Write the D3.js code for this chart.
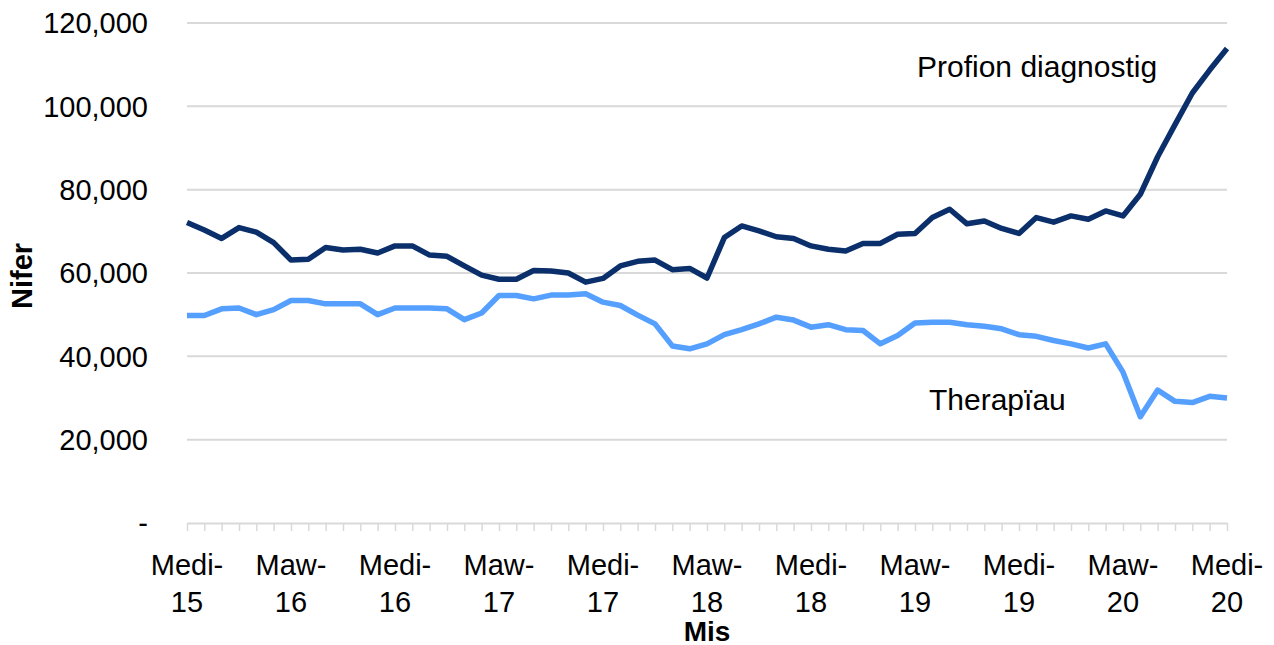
<!DOCTYPE html>
<html>
<head>
<meta charset="utf-8">
<script src="https://cdn.jsdelivr.net/npm/d3@7"></script>
<style>
    body { margin: 0; background: #fff; }
    text { font-family: "Liberation Sans", Arial, sans-serif; fill: #000; }
</style>
</head>
<body>
<div id="chart"></div>
<script>
// Months, Sep 2015 to Sep 2020 (Welsh abbreviations)
const months = [
    'Medi-15', 'Hyd-15', 'Tach-15', 'Rhag-15',
    'Ion-16', 'Chwef-16', 'Maw-16', 'Ebr-16', 'Mai-16', 'Meh-16', 'Gorff-16', 'Awst-16', 'Medi-16', 'Hyd-16', 'Tach-16', 'Rhag-16',
    'Ion-17', 'Chwef-17', 'Maw-17', 'Ebr-17', 'Mai-17', 'Meh-17', 'Gorff-17', 'Awst-17', 'Medi-17', 'Hyd-17', 'Tach-17', 'Rhag-17',
    'Ion-18', 'Chwef-18', 'Maw-18', 'Ebr-18', 'Mai-18', 'Meh-18', 'Gorff-18', 'Awst-18', 'Medi-18', 'Hyd-18', 'Tach-18', 'Rhag-18',
    'Ion-19', 'Chwef-19', 'Maw-19', 'Ebr-19', 'Mai-19', 'Meh-19', 'Gorff-19', 'Awst-19', 'Medi-19', 'Hyd-19', 'Tach-19', 'Rhag-19',
    'Ion-20', 'Chwef-20', 'Maw-20', 'Ebr-20', 'Mai-20', 'Meh-20', 'Gorff-20', 'Awst-20', 'Medi-20'
];

// Month labels shown on the x axis
const tickLabels = ['Medi-15', 'Maw-16', 'Medi-16', 'Maw-17', 'Medi-17', 'Maw-18',
    'Medi-18', 'Maw-19', 'Medi-19', 'Maw-20', 'Medi-20'];

const yTicks = [0, 20000, 40000, 60000, 80000, 100000, 120000];

// Profion diagnostig
const diagnostic = [
    72100, 70300, 68300, 70900, 69800, 67300, 63100, 63300, 66100, 65500,
    65700, 64800, 66500, 66500, 64300, 64000, 61700, 59500, 58500, 58500,
    60600, 60500, 60000, 57800, 58700, 61700, 62800, 63100, 60800, 61100,
    58800, 68500, 71300, 70100, 68700, 68300, 66500, 65700, 65300, 67100,
    67100, 69300, 69500, 73300, 75300, 71800, 72500, 70700, 69500, 73300,
    72200, 73700, 72900, 74900, 73700, 78900, 87900, 95600, 103200, 108700,
    113900
];

// Therapïau
const therapies = [
    49800, 49800, 51400, 51600, 50000, 51200, 53400, 53400, 52600, 52600,
    52600, 50000, 51600, 51600, 51600, 51400, 48800, 50400, 54600, 54600,
    53800, 54700, 54700, 55000, 53000, 52200, 49900, 47800, 42500, 41800,
    43000, 45200, 46400, 47800, 49400, 48700, 47000, 47600, 46400, 46200,
    43000, 45000, 48000, 48200, 48200, 47600, 47200, 46600, 45200, 44800,
    43800, 43000, 42000, 43000, 36200, 25500, 31900, 29200, 28900, 30400,
    30000
];

const width = 1274;
const height = 645;
const margin = { top: 23, right: 47, bottom: 120, left: 187 };

const svg = d3.select('#chart').append('svg')
    .attr('width', width)
    .attr('height', height);

const xScale = d3.scalePoint()
    .domain(months)
    .range([margin.left, width - margin.right]);

const yScale = d3.scaleLinear()
    .domain([0, 120000])
    .range([height - margin.bottom - 2, margin.top]);

// Gridlines
svg.append('g')
    .selectAll('line')
    .data(yTicks.filter(d => d > 0))
    .enter().append('line')
    .attr('x1', margin.left)
    .attr('x2', width - margin.right)
    .attr('y1', d => yScale(d))
    .attr('y2', d => yScale(d))
    .attr('stroke', '#d9d9d9')
    .attr('stroke-width', 2);

// Y tick labels
svg.append('g')
    .selectAll('text')
    .data(yTicks)
    .enter().append('text')
    .attr('x', 148)
    .attr('y', d => yScale(d))
    .attr('dy', '0.36em')
    .style('text-anchor', 'end')
    .style('font-size', '29px')
    .text(d => d === 0 ? '-' : d3.format(',')(d));

// X axis with a tick on every month
const xAxis = d3.axisBottom(xScale)
    .tickSize(8)
    .tickSizeOuter(0)
    .tickFormat('');

const xAxisG = svg.append('g')
    .attr('transform', `translate(0, ${yScale(0)})`)
    .call(xAxis);

xAxisG.select('.domain').attr('stroke', '#d9d9d9').attr('stroke-width', 2);
xAxisG.selectAll('.tick line').attr('stroke', '#d9d9d9').attr('stroke-width', 1.5);

// Two-line month labels
const labels = svg.append('g')
    .selectAll('text')
    .data(tickLabels)
    .enter().append('text')
    .attr('x', d => xScale(d))
    .attr('y', 575)
    .style('text-anchor', 'middle')
    .style('font-size', '29px');

labels.append('tspan')
    .attr('x', d => xScale(d))
    .text(d => d.split('-')[0] + '-');

labels.append('tspan')
    .attr('x', d => xScale(d))
    .attr('dy', 37)
    .text(d => d.split('-')[1]);

// Axis titles
svg.append('text')
    .attr('x', 707)
    .attr('y', 641)
    .style('text-anchor', 'middle')
    .style('font-size', '28px')
    .style('font-weight', 'bold')
    .text('Mis');

svg.append('text')
    .attr('transform', 'rotate(-90)')
    .attr('x', -276)
    .attr('y', 32)
    .style('text-anchor', 'middle')
    .style('font-size', '29px')
    .style('font-weight', 'bold')
    .text('Nifer');

// Lines
const line = d3.line()
    .x((d, i) => xScale(months[i]))
    .y(d => yScale(d));

svg.append('path')
    .datum(therapies)
    .attr('d', line)
    .attr('fill', 'none')
    .attr('stroke', '#559fff')
    .attr('stroke-width', 5.5)
    .attr('stroke-linejoin', 'round');

svg.append('path')
    .datum(diagnostic)
    .attr('d', line)
    .attr('fill', 'none')
    .attr('stroke', '#0a2f6b')
    .attr('stroke-width', 5.5)
    .attr('stroke-linejoin', 'round');

// Series labels
svg.append('text')
    .attr('x', 917)
    .attr('y', 77)
    .style('font-size', '30px')
    .text('Profion diagnostig');

svg.append('text')
    .attr('x', 929)
    .attr('y', 410)
    .style('font-size', '30px')
    .text('Therapïau');
</script>
</body>
</html>
